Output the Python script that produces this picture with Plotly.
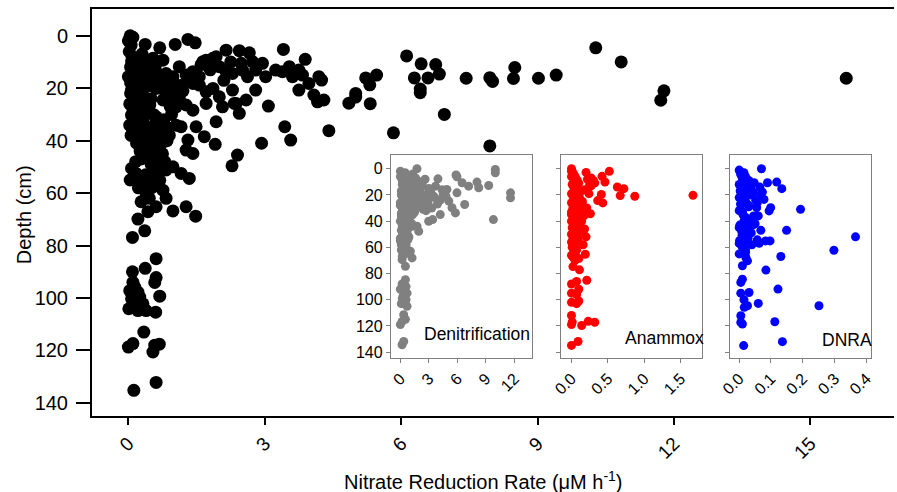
import plotly.graph_objects as go

# ---------------- main panel: total nitrate reduction rate ----------------
total_rate = [
    0.04, 0.10, 0.00, 0.06, 0.37, 0.69, 1.03, 1.31, 1.47, 0.07, 2.15, 2.44, 2.66, 3.41, 3.89,
    0.00, 0.14, 0.32, 0.39, 0.54, 0.61, 0.76, 0.83, 0.98, 1.12, 1.27, 1.42, 1.56, 1.64, 1.71,
    1.86, 1.93, 2.00, 2.15, 2.29, 2.48, 2.51, 2.62, 2.73, 2.80, 2.95, 3.02, 3.24, 3.39, 3.54,
    3.61, 3.75, 3.83, 4.19, 4.25,
    0.07, 0.17, 0.32, 0.61, 0.76, 0.98, 1.12, 1.42, 1.56, 1.71, 1.86, 2.00, 2.29, 2.37, 2.59,
    2.80, 3.75, 3.97, 4.08, 4.16, 4.30, 5.00,
    0.07, 0.25, 0.47, 0.61, 1.05, 1.27, 1.42, 1.71, 1.93, 2.07, 2.33, 2.44, 3.08,
    0.03, 0.17, 0.32, 0.61, 0.83, 1.05, 1.16, 1.31, 1.49, 1.67, 1.91, 2.93, 3.44, 3.57, 4.41,
    0.39, 0.53, 0.07, 0.17, 0.25, 0.39, 0.69, 0.83, 0.98, 1.16, 1.27, 1.34, 1.42, 2.40, 2.28,
    0.39, 0.54, 0.76, 0.83, 0.28, 0.43, 0.61, 0.98, 1.27, 1.48, 0.21, 0.36, 0.09,
    0.61, 0.37, 0.09, 0.61, 0.58, 0.03, 0.10, 0.14, 0.21, 0.25, 0.07, 0.10, 0.01, 0.32, 0.39,
    0.21, 0.69, 0.60, 0.34, 0.00, 0.10, 0.54, 0.68, 0.58, 0.61, 0.12,
    10.28, 10.84, 15.79, 11.78, 11.71, 6.12, 6.44, 6.76, 6.84, 6.29, 6.59, 6.42, 6.42, 5.22,
    5.46, 5.31, 5.00, 4.85, 5.32, 6.95, 5.83, 7.95, 7.43, 7.95, 8.01, 8.50, 8.47, 9.02, 9.41,
    0.05, 0.10, 0.15, 0.20, 0.25, 0.30, 0.35, 0.40, 0.45, 0.50, 0.55, 0.60, 0.65, 0.70, 0.75,
    0.80, 0.85, 0.90, 0.20, 0.10, 0.15, 0.05, 0.25, 0.35, 0.50, 0.60, 0.70, 0.55, 0.45, 0.65,
    0.30, 0.40, 0.50, 0.60, 0.70, 0.80, 0.90, 1.00, 1.10, 1.20, 0.95, 0.12, 0.08, 0.18, 0.28,
    0.38, 0.22, 0.48, 0.58, 0.78,
    0.02, 0.08, 0.15, 0.22, 0.30, 0.05, 0.12, 0.20, 0.28, 0.36, 0.44, 0.52, 0.03, 0.10, 0.18,
    0.26, 0.34, 0.42, 0.06, 0.14, 0.24, 0.32, 0.40, 0.48, 0.56, 0.64, 0.72, 0.85, 1.15, 1.35,
    1.60, 1.80, 2.10, 2.25, 1.05, 0.92, 0.46, 0.26, 0.16, 0.04,
]
total_depth = [
    0.0, 0.6, 1.9, 3.6, 3.3, 4.6, 3.3, 1.4, 2.7, 9.9, 5.5, 5.7, 6.5, 5.2, 9.0,
    15.6, 13.1, 9.3, 11.8, 8.6, 13.7, 9.3, 14.4, 15.6, 11.8, 15.0, 13.7, 15.6, 9.9, 9.3,
    8.6, 8.0, 11.8, 13.7, 14.4, 10.5, 13.1, 15.6, 9.9, 13.1, 10.5, 15.6, 13.1, 13.7, 11.8,
    15.6, 13.1, 15.0, 15.6, 16.9,
    20.7, 22.6, 20.7, 20.1, 24.5, 22.0, 23.9, 18.2, 18.8, 21.4, 20.1, 23.3, 20.7, 25.8, 24.5,
    20.7, 20.7, 18.2, 22.6, 25.2, 24.5, 22.0,
    30.3, 28.4, 26.4, 30.9, 27.1, 26.4, 28.4, 25.8, 32.8, 27.1, 25.8, 29.6, 26.8,
    34.1, 36.6, 37.3, 39.8, 34.7, 34.1, 34.7, 39.8, 34.7, 38.5, 41.4, 41.0, 34.7, 39.8, 36.2,
    46.5, 46.8, 50.6, 52.5, 53.8, 55.7, 55.1, 51.2, 50.0, 52.5, 43.6, 54.4, 44.9, 45.5, 49.6,
    60.1, 57.6, 58.9, 62.0, 63.3, 67.1, 65.2, 66.8, 65.2, 68.8, 69.9, 74.4, 76.9,
    85.0, 88.7, 90.0, 92.2, 94.1, 97.2, 94.0, 95.8, 97.8, 99.7, 100.3, 102.9, 104.1, 102.2, 104.8,
    104.8, 99.3, 105.4, 113.0, 118.7, 117.4, 120.6, 117.6, 118.0, 132.2, 135.2,
    4.6, 10.0, 16.2, 21.0, 24.6, 7.7, 10.7, 11.0, 14.6, 16.1, 16.1, 20.3, 21.7, 16.1,
    15.0, 18.7, 23.4, 25.7, 25.9, 30.0, 37.0, 42.0, 16.2, 16.0, 17.4, 12.1, 16.3, 16.2, 15.0,
    12.0, 16.0, 18.0, 14.0, 17.0, 22.0, 25.0, 28.0, 19.0, 24.0, 30.0, 33.0, 36.0, 42.0, 45.0,
    48.0, 40.0, 38.0, 26.0, 28.0, 32.0, 22.0, 38.0, 43.0, 49.0, 52.0, 50.0, 56.0, 59.0, 47.0,
    33.0, 16.0, 14.0, 11.0, 17.0, 21.0, 19.0, 18.0, 25.0, 21.0, 30.0, 24.0, 35.0, 41.0, 47.0,
    53.0, 58.0, 43.0, 38.0, 32.0,
    6.0, 8.0, 10.0, 12.0, 7.0, 18.0, 20.0, 15.0, 17.0, 12.0, 14.0, 17.0, 26.0, 31.0, 27.0,
    33.0, 31.0, 35.0, 38.0, 36.0, 41.0, 44.0, 40.0, 38.0, 43.0, 41.0, 37.0, 24.0, 19.0, 17.0,
    11.0, 13.0, 17.0, 10.0, 20.0, 27.0, 62.0, 44.0, 48.0, 55.0,
]

# ---------------- inset: denitrification ----------------
denit_rate = [
    1.75, 10.0, 10.0, 5.86, 9.3, 8.07, 8.25, 7.19, 6.5, 5.96, 11.6, 11.6, 4.9, 5.1, 5.96,
    6.77, 5.44, 5.8, 4.2, 9.8, 3.96, 3.7, 3.33, 2.98, 3.4, 1.93, 1.75, 1.05, 1.23, 0.53, 0.18,
    0.0, 0.1, 0.3, 0.5, 0.8, 1.0, 1.3, 1.6, 2.0, 2.3, 2.6, 3.0, 0.2, 0.4, 0.7, 0.9, 1.2,
    1.5, 1.8, 2.2, 2.5, 2.8, 0.1, 0.3, 0.6, 0.9, 1.1, 1.4, 1.7, 2.1, 2.4, 0.0, 0.2, 0.5,
    0.8, 1.0, 1.3, 0.1, 0.4, 0.6, 0.9, 1.2, 0.2, 0.5, 0.7, 0.3, 0.6, 0.4, 0.1, 3.2, 3.6,
    4.0, 4.5, 2.7, 3.3, 3.9, 4.4, 0.0, 0.3, 0.6, 0.4, 0.2, 0.5, 0.7, 0.3,
    0.53, 0.18, 0.6, 0.0, 0.7, 0.3, 0.2, 0.5, 0.1, 0.7, 0.4, 0.6, 0.35, 0.18, 0.0, 0.53,
    0.18, 0.35,
    0.0, 0.2, 0.4, 0.6, 0.8, 1.0, 1.2, 1.4, 0.1, 0.3, 0.5, 0.7, 0.9, 1.1, 1.3, 1.5, 1.7, 1.9,
    0.0, 0.2, 0.4, 0.6, 0.8, 1.0, 1.2, 1.4, 1.6, 1.8, 2.0, 0.1, 0.3, 0.5, 0.7, 0.9, 1.1,
    1.3, 1.5, 0.0, 0.2, 0.4, 0.6, 0.8, 1.0, 1.2, 0.1, 0.3, 0.5, 0.7, 0.9, 0.0, 0.2, 0.4,
    0.6, 0.8, 0.1, 0.3, 0.5, 2.2, 2.6, 2.9, 3.5, 4.2, 4.8, 3.1, 2.4,
]
denit_depth = [
    0.0, 0.5, 3.1, 4.8, 12.8, 10.2, 14.5, 13.3, 10.7, 6.1, 18.4, 22.2, 15.8, 24.7, 18.4,
    27.3, 29.8, 33.7, 35.0, 38.8, 7.7, 13.3, 20.9, 40.1, 38.8, 47.7, 43.9, 63.0, 68.1, 74.5, 69.4,
    2.0, 5.0, 8.0, 3.0, 6.0, 9.0, 4.0, 7.0, 10.0, 12.0, 8.0, 15.0, 12.0, 14.0, 16.0, 13.0, 17.0,
    15.0, 18.0, 14.0, 20.0, 22.0, 20.0, 22.0, 24.0, 21.0, 25.0, 23.0, 26.0, 24.0, 28.0, 28.0, 30.0, 32.0,
    30.0, 34.0, 31.0, 36.0, 38.0, 40.0, 37.0, 42.0, 44.0, 46.0, 48.0, 50.0, 52.0, 55.0, 58.0, 18.0, 22.0,
    25.0, 20.0, 32.0, 30.0, 27.0, 16.0, 53.0, 57.0, 60.0, 64.0, 67.0, 50.0, 45.0, 62.0,
    84.7, 88.0, 90.0, 92.0, 95.0, 97.0, 99.0, 101.0, 103.0, 105.0, 94.0, 100.0, 111.5, 116.6, 119.0, 115.0,
    134.4, 131.9,
    6.0, 9.0, 11.0, 10.0, 11.0, 13.0, 11.0, 10.0, 17.0, 18.0, 19.0, 18.0, 20.0, 19.0, 18.0, 21.0, 19.0, 16.0,
    26.0, 27.0, 29.0, 27.0, 28.0, 27.0, 29.0, 28.0, 30.0, 27.0, 29.0, 34.0, 35.0, 33.0, 35.0, 34.0, 36.0,
    35.0, 33.0, 40.0, 42.0, 41.0, 40.0, 43.0, 41.0, 44.0, 47.0, 48.0, 49.0, 50.0, 52.0, 55.0, 56.0, 57.0,
    58.0, 54.0, 62.0, 63.0, 65.0, 23.0, 24.0, 26.0, 21.0, 24.0, 21.0, 17.0, 31.0,
]

# ---------------- inset: anammox ----------------
anammox_rate = [
    1.67, 0.52, 0.42, 0.46, 0.63, 0.72, 0.67, 0.87, 0.41, 0.43, 0.36, 0.26, 0.20, 0.32, 0.27,
    0.21, 0.27, 0.14, 0.18, 0.20, 0.16, 0.13, 0.19, 0.10, 0.01, 0.02, 0.11, 0.21,
    0.00, 0.02, 0.04, 0.06, 0.08, 0.10, 0.12, 0.15, 0.00, 0.03, 0.05, 0.07, 0.09, 0.11, 0.14,
    0.17, 0.00, 0.02, 0.04, 0.06, 0.08, 0.12, 0.00, 0.03, 0.05, 0.09, 0.00, 0.02, 0.04, 0.07,
    0.01, 0.05, 0.00, 0.03, 0.00, 0.07, 0.10, 0.00, 0.07, 0.10, 0.00, 0.07,
    0.00, 0.01, 0.00, 0.14, 0.23, 0.32, 0.09, 0.00,
    0.00, 0.02, 0.04, 0.06, 0.08, 0.10, 0.01, 0.03, 0.05, 0.07, 0.09, 0.11, 0.13, 0.00, 0.02,
    0.04, 0.06, 0.08, 0.10, 0.12, 0.00, 0.02, 0.04, 0.06, 0.08, 0.10, 0.01, 0.03, 0.05, 0.07,
    0.09, 0.00, 0.02, 0.04, 0.06, 0.00, 0.03, 0.05, 0.22, 0.25, 0.18, 0.30, 0.15, 0.24,
]
anammox_depth = [
    20.3, 2.0, 5.8, 10.1, 13.9, 15.2, 20.5, 21.0, 19.7, 26.1, 24.3, 34.4, 2.8, 10.8, 7.1,
    30.0, 13.0, 40.0, 46.0, 52.0, 58.0, 37.0, 65.3, 68.6, 66.6, 74.7, 77.2, 85.1,
    0.0, 4.0, 8.0, 12.0, 16.0, 20.0, 24.0, 28.0, 6.0, 10.0, 14.0, 18.0, 22.0, 26.0, 30.0,
    36.0, 26.0, 30.0, 34.0, 38.0, 42.0, 48.0, 40.0, 44.0, 50.0, 55.0, 50.0, 54.0, 58.0, 62.0,
    60.0, 64.0, 35.0, 45.0, 88.0, 86.0, 92.0, 95.0, 96.0, 101.0, 102.0, 103.0,
    112.0, 117.0, 119.0, 119.7, 116.5, 117.2, 131.9, 134.9,
    2.0, 3.0, 5.0, 7.0, 9.0, 11.0, 12.0, 14.0, 16.0, 18.0, 20.0, 22.0, 17.0, 19.0, 21.0,
    23.0, 25.0, 27.0, 29.0, 31.0, 33.0, 35.0, 37.0, 39.0, 41.0, 43.0, 45.0, 47.0, 49.0, 51.0,
    53.0, 56.0, 58.0, 60.0, 62.0, 66.0, 68.0, 70.0, 8.0, 12.0, 16.0, 9.0, 25.0, 19.0,
]

# ---------------- inset: DNRA ----------------
dnra_rate = [
    0.070, 0.118, 0.134, 0.089, 0.047, 0.068, 0.073, 0.078, 0.057, 0.055, 0.193, 0.099, 0.094,
    0.149, 0.366, 0.298, 0.131, 0.084, 0.122, 0.251, 0.060, 0.112, 0.136, 0.014,
    0.068, 0.057, 0.083, 0.097, 0.063, 0.021, 0.026, 0.010, 0.005, 0.010, 0.031, 0.026, 0.016,
    0.005, 0.005, 0.010,
    0.000, 0.005, 0.010, 0.015, 0.020, 0.030, 0.040, 0.000, 0.008, 0.015, 0.025, 0.035, 0.000,
    0.010, 0.020, 0.030, 0.045, 0.000, 0.012, 0.022, 0.035, 0.050, 0.000, 0.008, 0.018, 0.028,
    0.000, 0.010, 0.020, 0.040, 0.000, 0.015, 0.025, 0.005, 0.015,
    0.002, 0.006, 0.012, 0.018, 0.024, 0.003, 0.009, 0.016, 0.022, 0.030, 0.004, 0.011, 0.019,
    0.027, 0.002, 0.008, 0.014, 0.021, 0.001, 0.007, 0.013, 0.020, 0.004, 0.010, 0.017, 0.003,
    0.009, 0.015, 0.045, 0.052, 0.060, 0.038, 0.065, 0.042,
]
dnra_depth = [
    0.0, 10.2, 15.2, 10.7, 10.7, 20.8, 17.8, 23.4, 25.9, 29.7, 31.0, 29.7, 32.2,
    47.0, 52.0, 62.2, 67.0, 77.4, 91.9, 104.6, 102.8, 116.8, 132.0, 135.0,
    47.0, 54.3, 55.1, 55.1, 56.9, 67.8, 70.3, 74.1, 86.8, 84.3, 94.5, 104.6, 105.8,
    112.2, 117.3, 118.5,
    1.0, 4.0, 7.0, 3.0, 6.0, 9.0, 12.0, 12.0, 15.0, 18.0, 14.0, 20.0, 22.0,
    24.0, 26.0, 28.0, 36.0, 32.0, 35.0, 38.0, 40.0, 42.0, 45.0, 48.0, 50.0, 53.0,
    57.0, 60.0, 62.0, 58.0, 65.0, 40.0, 44.0, 95.0, 100.0,
    2.0, 5.0, 8.0, 11.0, 14.0, 17.0, 20.0, 23.0, 26.0, 29.0, 31.0, 34.0, 37.0,
    40.0, 43.0, 46.0, 49.0, 52.0, 55.0, 58.0, 61.0, 64.0, 27.0, 33.0, 39.0, 45.0,
    51.0, 57.0, 18.0, 24.0, 36.0, 49.0, 14.0, 43.0,
]

main_xticks = [0, 3, 6, 9, 12, 15]
depth_ticks = [0, 20, 40, 60, 80, 100, 120, 140]
denit_xticks = [0, 3, 6, 9, 12]
anammox_xticks = [0.0, 0.5, 1.0, 1.5]
dnra_xticks = [0.0, 0.1, 0.2, 0.3, 0.4]

FONT = "Liberation Sans, Arial, sans-serif"

fig = go.Figure()
fig.add_trace(go.Scatter(x=total_rate, y=total_depth, mode="markers",
                         marker=dict(color="black", size=13, line=dict(width=0)),
                         xaxis="x", yaxis="y", showlegend=False))
fig.add_trace(go.Scatter(x=denit_rate, y=denit_depth, mode="markers",
                         marker=dict(color="#808080", size=9, line=dict(width=0)),
                         xaxis="x2", yaxis="y2", showlegend=False))
fig.add_trace(go.Scatter(x=anammox_rate, y=anammox_depth, mode="markers",
                         marker=dict(color="#ff0000", size=9, line=dict(width=0)),
                         xaxis="x3", yaxis="y3", showlegend=False))
fig.add_trace(go.Scatter(x=dnra_rate, y=dnra_depth, mode="markers",
                         marker=dict(color="#0000ff", size=9, line=dict(width=0)),
                         xaxis="x4", yaxis="y4", showlegend=False))

W, H = 897, 492
ML, MR, MT, MB = 92, 0, 9, 76
PW, PH = W - ML - MR, H - MT - MB


def fx(px):
    return (px - ML) / PW


def fy(py):
    return (H - MB - py) / PH


inset_y = [fy(358), fy(155)]
inset_common_x = dict(showgrid=False, zeroline=False, showline=True, mirror=True,
                      linecolor="#808080", linewidth=1, ticks="outside", ticklen=4,
                      tickcolor="#808080", tickangle=-45,
                      tickfont=dict(family=FONT, size=16, color="black"))
inset_common_y = dict(showgrid=False, zeroline=False, showline=True, mirror=True,
                      linecolor="#808080", linewidth=1, ticks="outside", ticklen=4,
                      tickcolor="#808080", range=[144.5, -10.5],
                      tickvals=depth_ticks,
                      tickfont=dict(family=FONT, size=16, color="black"))

fig.update_layout(
    width=W, height=H,
    margin=dict(l=ML, r=MR, t=MT, b=MB),
    paper_bgcolor="white", plot_bgcolor="white",
    font=dict(family=FONT, color="black"),
    xaxis=dict(domain=[0, 1], range=[-0.80, 16.84], tickvals=main_xticks,
               showgrid=False, zeroline=False, showline=True, mirror=True,
               linecolor="black", linewidth=2, ticks="outside", ticklen=7,
               tickwidth=1.5, tickcolor="black", tickangle=-45,
               tickfont=dict(family=FONT, size=19)),
    yaxis=dict(domain=[0, 1], range=[145, -10.2], tickvals=depth_ticks,
               showgrid=False, zeroline=False, showline=True, mirror=False,
               linecolor="black", linewidth=2, ticks="outside", ticklen=14,
               tickwidth=1.5, tickcolor="black", ticklabelstandoff=4,
               tickfont=dict(family=FONT, size=20)),
    xaxis2=dict(domain=[fx(392), fx(534)], range=[-1.0, 13.9], tickvals=denit_xticks,
                anchor="y2", **inset_common_x),
    yaxis2=dict(domain=inset_y, anchor="x2", showticklabels=True, **inset_common_y),
    xaxis3=dict(domain=[fx(562.7), fx(704)], range=[-0.145, 1.79], tickvals=anammox_xticks,
                tickformat=".1f", anchor="y3", **inset_common_x),
    yaxis3=dict(domain=inset_y, anchor="x3", showticklabels=False, **inset_common_y),
    xaxis4=dict(domain=[fx(732.7), fx(874)], range=[-0.028, 0.415], tickvals=dnra_xticks,
                tickformat=".1f", anchor="y4", **inset_common_x),
    yaxis4=dict(domain=inset_y, anchor="x4", showticklabels=False, **inset_common_y),
)

fig.add_annotation(text="Denitrification", xref="x2 domain", yref="y2 domain",
                   x=1.0, y=0.06, xanchor="right", yanchor="bottom", showarrow=False,
                   font=dict(family=FONT, size=17.5))
fig.add_annotation(text="Anammox", xref="x3 domain", yref="y3 domain",
                   x=1.03, y=0.04, xanchor="right", yanchor="bottom", showarrow=False,
                   font=dict(family=FONT, size=17.5))
fig.add_annotation(text="DNRA", xref="x4 domain", yref="y4 domain",
                   x=1.02, y=0.03, xanchor="right", yanchor="bottom", showarrow=False,
                   font=dict(family=FONT, size=17.5))

fig.add_annotation(text="Nitrate Reduction Rate (μM h<sup>-1</sup>)", xref="paper", yref="paper",
                   x=fx(485), y=fy(480), xanchor="center", yanchor="middle", showarrow=False,
                   font=dict(family=FONT, size=20))
fig.add_annotation(text="Depth (cm)", xref="paper", yref="paper",
                   x=fx(24), y=fy(215), xanchor="center", yanchor="middle", showarrow=False,
                   textangle=-90, font=dict(family=FONT, size=20))

fig.write_html("out.html")
